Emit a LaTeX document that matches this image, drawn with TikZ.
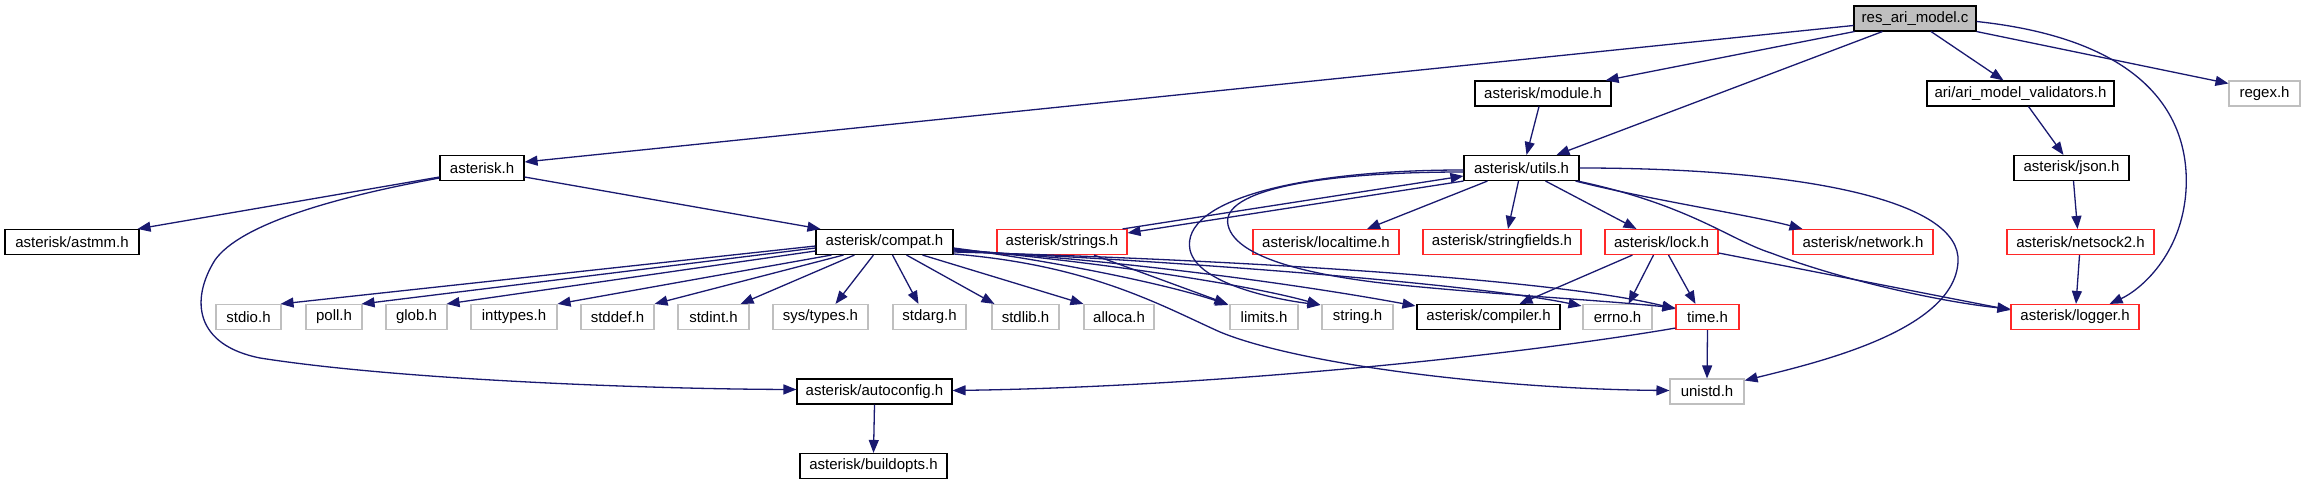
\documentclass[tikz,border=0pt]{standalone}
\usepackage{fontspec}
\newfontfamily\dfont{Liberation Sans}
\usetikzlibrary{arrows.meta,calc}
\definecolor{edgec}{RGB}{25,25,112}
\definecolor{redb}{RGB}{255,40,40}
\definecolor{grayb}{RGB}{191,191,191}
\definecolor{resfill}{RGB}{191,191,191}
\tikzset{
  nodebox/.style={draw, line width=0.55pt, minimum height=12.5pt, inner sep=0pt, fill=white, text=black, font=\dfont\fontsize{7.5}{9}\selectfont},
  blk/.style={nodebox, draw=black},
  redn/.style={nodebox, draw=redb},
  grayn/.style={nodebox, draw=grayb},
  nw/.style={minimum width=#1*0.5pt},
  dep/.style={draw=edgec, line width=0.65pt, -{Triangle[length=6.5pt,width=5pt]}, fill=none}
}
\begin{document}
\begin{tikzpicture}[x=0.5pt,y=-0.5pt]
\fill[white] (0,0) rectangle (2305,485);
\useasboundingbox (0,0) rectangle (2305,485);

% rank 0
\node[blk, nw=122, fill=resfill] (res) at (1915,18.5) {res\_ari\_model.c};
% rank 1
\node[blk, nw=136] (module) at (1543,93.5) {asterisk/module.h};
\node[blk, nw=187] (ari) at (2020.5,93.5) {ari/ari\_model\_validators.h};
\node[grayn, nw=71] (regex) at (2264.5,93.5) {regex.h};
% rank 2
\node[blk, nw=84] (asterisk) at (482,168) {asterisk.h};
\node[blk, nw=115] (utils) at (1521.5,168) {asterisk/utils.h};
\node[blk, nw=115] (json) at (2071.5,168) {asterisk/json.h};
% rank 3
\node[blk, nw=134] (astmm) at (72,242) {asterisk/astmm.h};
\node[blk, nw=137] (compat) at (884.5,242) {asterisk/compat.h};
\node[redn, nw=130] (strings) at (1062,242) {asterisk/strings.h};
\node[redn, nw=146] (localtime) at (1326,242) {asterisk/localtime.h};
\node[redn, nw=158] (stringfields) at (1502,242) {asterisk/stringfields.h};
\node[redn, nw=113] (lock) at (1661.5,242) {asterisk/lock.h};
\node[redn, nw=140] (network) at (1863,242) {asterisk/network.h};
\node[redn, nw=147] (netsock2) at (2080.5,242) {asterisk/netsock2.h};
% rank 4
\node[grayn, nw=65] (stdio) at (248.5,317) {stdio.h};
\node[grayn, nw=56] (poll) at (334,317) {poll.h};
\node[grayn, nw=61] (glob) at (416.5,317) {glob.h};
\node[grayn, nw=86] (inttypes) at (514,317) {inttypes.h};
\node[grayn, nw=73] (stddef) at (617.5,317) {stddef.h};
\node[grayn, nw=71] (stdint) at (713.5,317) {stdint.h};
\node[grayn, nw=95] (types) at (820.5,317) {sys/types.h};
\node[grayn, nw=73] (stdarg) at (929.5,317) {stdarg.h};
\node[grayn, nw=67] (stdlib) at (1025.5,317) {stdlib.h};
\node[grayn, nw=70] (alloca) at (1119,317) {alloca.h};
\node[grayn, nw=68] (limits) at (1264,317) {limits.h};
\node[grayn, nw=71] (string) at (1357.5,317) {string.h};
\node[blk, nw=143] (compiler) at (1488.5,317) {asterisk/compiler.h};
\node[grayn, nw=69] (errno) at (1617.5,317) {errno.h};
\node[redn, nw=63] (time) at (1707.5,317) {time.h};
\node[redn, nw=128] (logger) at (2075,317) {asterisk/logger.h};
% rank 5
\node[blk, nw=155] (autoconfig) at (874.5,391.5) {asterisk/autoconfig.h};
\node[grayn, nw=74] (unistd) at (1707,391.5) {unistd.h};
% rank 6
\node[blk, nw=147] (buildopts) at (873.5,466) {asterisk/buildopts.h};

% ---- edges from res_ari_model.c
\draw[dep] ($(res.west)+(0,7)$) -- ($(asterisk.east)+(0,-6)$);
\draw[dep] ($(res.south west)+(1,0)$) -- ($(module.north east)+(-6,0)$);
\draw[dep] ($(res.south west)+(29,0)$) -- ($(utils.north)+(35,0)$);
\draw[dep] ($(res.south)+(16,0)$) -- ($(ari.north)+(-17,0)$);
\draw[dep] (res.south east) -- ($(regex.west)+(0,-10)$);
\draw[dep] ($(res.east)+(0,3)$) .. controls (2150,40) and (2190,120) .. (2186,190)
   .. controls (2182,255) and (2140,290) .. ($(logger.north east)+(-30,0)$);

% ---- rank 1
\draw[dep] ($(module.south)+(-4,0)$) -- ($(utils.north)+(5,0)$);
\draw[dep] ($(ari.south)+(8,0)$) -- ($(json.north)+(-8,0)$);
\draw[dep] ($(json.south)+(2,0)$) -- ($(netsock2.north)+(-3,0)$);
\draw[dep] ($(netsock2.south)+(-1,0)$) -- ($(logger.north)+(1,0)$);

% ---- asterisk.h
\draw[dep] ($(asterisk.west)+(0,9)$) -- ($(astmm.north east)+(-2,0)$);
\draw[dep] ($(asterisk.east)+(0,9)$) -- ($(compat.north west)+(5,0)$);
\draw[dep] ($(asterisk.west)+(0,10)$) .. controls (330,198) and (240,225) .. (215,260)
   .. controls (190,300) and (195,345) .. (260,358)
   .. controls (400,380) and (650,389) .. ($(autoconfig.west)+(0,-2)$);

% ---- compat.h to the left
\draw[dep] ($(compat.west)+(0,4)$) -- ($(stdio.north east)+(-1,0)$);
\draw[dep] ($(compat.west)+(0,6)$) -- ($(poll.north east)+(-1,0)$);
\draw[dep] ($(compat.west)+(0,9)$) -- ($(glob.north east)+(-1,0)$);
\draw[dep] ($(compat.south west)+(16,0)$) -- (inttypes.north east);
\draw[dep] ($(compat.south west)+(28,0)$) -- (stddef.north east);
\draw[dep] ($(compat.south west)+(39,0)$) -- ($(stdint.north east)+(-9,0)$);
\draw[dep] ($(compat.south west)+(58,0)$) -- ($(types.north)+(15,0)$);
\draw[dep] ($(compat.south)+(8,0)$) -- ($(stdarg.north)+(-11,0)$);
\draw[dep] ($(compat.south)+(22,0)$) -- ($(stdlib.north west)+(3,0)$);
\draw[dep] ($(compat.south)+(38,0)$) -- (alloca.north west);
% ---- compat.h to the right
\draw[dep] ($(compat.east)+(0,6)$) .. controls (1060,262) and (1170,285) .. ($(limits.north west)+(-1,1)$);
\draw[dep] ($(compat.east)+(0,7)$) .. controls (1100,262) and (1250,285) .. ($(string.north west)+(-1,1)$);
\draw[dep] ($(compat.east)+(0,8)$) .. controls (1150,262) and (1330,290) .. ($(compiler.north west)+(-1,2)$);
\draw[dep] ($(compat.east)+(0,9)$) .. controls (1200,262) and (1480,285) .. ($(errno.north west)+(-1,2)$);
\draw[dep] ($(compat.east)+(0,10)$) .. controls (1250,260) and (1560,280) .. ($(time.north west)+(0,5)$);
\draw[dep] ($(compat.east)+(0,12)$) .. controls (1090,265) and (1160,305) .. (1220,332)
   .. controls (1300,365) and (1500,389) .. ($(unistd.west)+(0,-1)$);

% ---- utils.h
\draw[dep] ($(strings.north east)+(-5,0)$) -- ($(utils.west)+(0,8)$);
\draw[dep] (utils.south west) -- ($(strings.east)+(0,-9)$);
\draw[dep] ($(utils.south west)+(24,0)$) -- ($(localtime.north)+(41,0)$);
\draw[dep] ($(utils.south)+(-3,0)$) -- ($(stringfields.north)+(6,0)$);
\draw[dep] ($(utils.south)+(24,0)$) -- ($(lock.north)+(-25,0)$);
\draw[dep] ($(utils.south east)+(-4,0)$) .. controls (1650,200) and (1750,215) .. ($(network.north west)+(10,0)$);
\draw[dep] ($(utils.south east)+(-2,0)$) .. controls (1690,205) and (1730,240) .. (1771,253)
   .. controls (1850,283) and (1950,303) .. ($(logger.west)+(0,-8)$);
\draw[dep] (utils.east) .. controls (1800,168) and (1962,200) .. (1958,262)
   .. controls (1954,330) and (1820,362) .. ($(unistd.east)+(0,-11)$);
\draw[dep] ($(utils.west)+(0,2)$) .. controls (1300,170) and (1180,200) .. (1190,250)
   .. controls (1198,285) and (1280,300) .. ($(string.north west)+(-1,1)$);
\draw[dep] ($(utils.west)+(0,4)$) .. controls (1320,172) and (1220,190) .. (1228,225)
   .. controls (1236,262) and (1330,278) .. (1400,285)
   .. controls (1500,295) and (1600,300) .. ($(time.north west)+(0,4)$);

% ---- strings.h
\draw[dep] ($(strings.south)+(32,0)$) -- ($(limits.north west)+(-2,0)$);

% ---- lock.h
\draw[dep] ($(lock.south west)+(28,0)$) -- ($(compiler.north)+(31,0)$);
\draw[dep] ($(lock.south)+(-8,0)$) -- ($(errno.north)+(11,0)$);
\draw[dep] ($(lock.south)+(7,0)$) -- ($(time.north)+(-12,0)$);
\draw[dep] ($(lock.east)+(0,11)$) -- ($(logger.west)+(0,-7)$);

% ---- time.h
\draw[dep] (time.south) -- (unistd.north);
\draw[dep] ($(time.south west)+(0,-2)$) .. controls (1500,358) and (1200,387) .. ($(autoconfig.east)+(0,-1)$);

% ---- autoconfig.h
\draw[dep] (autoconfig.south) -- (buildopts.north);
\end{tikzpicture}
\end{document}
